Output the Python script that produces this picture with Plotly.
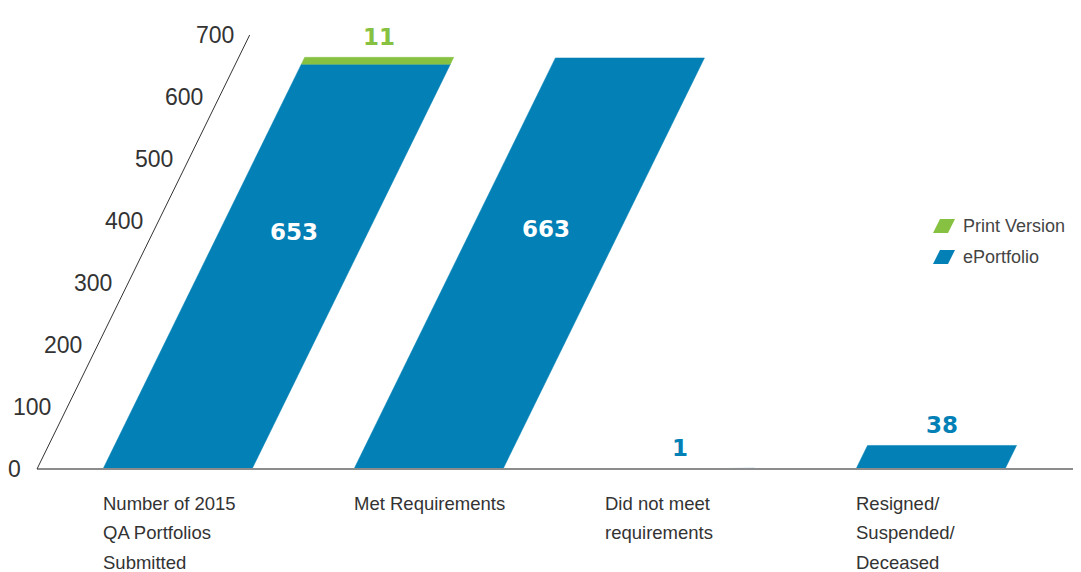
import plotly.graph_objects as go

# data
categories = [
    ["Number of 2015", "QA Portfolios", "Submitted"],
    ["Met Requirements"],
    ["Did not meet", "requirements"],
    ["Resigned/", "Suspended/", "Deceased"],
]
eportfolio = [653, 663, 1, 38]
print_version = [11, 0, 0, 0]
y_ticks = [0, 100, 200, 300, 400, 500, 600, 700]
series_names = ["Print Version", "ePortfolio"]

BLUE = "#0380b5"
GREEN = "#86c142"
TEXT = "#333333"

VIEW_W, VIEW_H = 1081, 572
OFF = 8                  # page body margin around the plot div
W, H = VIEW_W - OFF, VIEW_H - OFF
BASE_PX = 469            # pixel row of the zero line (window coords)
PX_PER_UNIT = 0.62       # vertical pixels per data unit
SLANT = 0.49             # horizontal shift per vertical pixel
SHEAR = SLANT * PX_PER_UNIT
AXIS_X0 = 37
BAR_X0, BAR_STEP, BAR_W = 103, 251, 149


def slanted(x_left, y0, y1):
    xs = [x_left + SHEAR * y0, x_left + BAR_W + SHEAR * y0,
          x_left + BAR_W + SHEAR * y1, x_left + SHEAR * y1, x_left + SHEAR * y0]
    return xs, [y0, y0, y1, y1, y0]


def paper(px, py):
    return (px - OFF) / W, 1 - (py - OFF) / H


fig = go.Figure()
annotations = []
value_font = dict(family="DejaVu Sans", size=23, weight="bold")

for i, (blue, green) in enumerate(zip(eportfolio, print_version)):
    left = BAR_X0 + i * BAR_STEP
    xs, ys = slanted(left, 0, blue)
    fig.add_trace(go.Scatter(
        x=xs, y=ys, mode="lines", fill="toself", fillcolor=BLUE,
        line=dict(color=BLUE, width=0.5), name=series_names[1],
        hoverinfo="text", text=f"ePortfolio: {blue}",
    ))
    if green:
        top = blue + green
        xs, ys = slanted(left, blue, top)
        fig.add_trace(go.Scatter(
            x=xs, y=ys, mode="lines", fill="toself", fillcolor=GREEN,
            line=dict(color=GREEN, width=0.5), name=series_names[0],
            hoverinfo="text", text=f"Print Version: {green}",
        ))
        annotations.append(dict(
            x=left + BAR_W / 2 + SHEAR * top, y=top, text=str(green),
            yshift=20, showarrow=False, font=dict(value_font, color=GREEN),
        ))
    if blue > 100:
        ly = blue * 0.585
        annotations.append(dict(
            x=left + BAR_W / 2 + SHEAR * ly, y=ly, text=str(blue), showarrow=False,
            font=dict(value_font, color="white"),
        ))
    else:
        annotations.append(dict(
            x=left + BAR_W / 2 + SHEAR * blue, y=blue, text=str(blue),
            yshift=20, showarrow=False, font=dict(value_font, color=BLUE),
        ))
    for j, line in enumerate(categories[i]):
        annotations.append(dict(
            x=left, y=0, text=line, xanchor="left", yanchor="middle",
            xshift=-2, yshift=-(34 + 29.5 * j), showarrow=False,
            font=dict(family="Liberation Sans", size=18.5, color=TEXT),
        ))

# slanted value axis labels
for t in y_ticks:
    annotations.append(dict(
        x=AXIS_X0 + SHEAR * t, y=t, text=str(t), xanchor="right", yanchor="middle",
        xshift=-14, showarrow=False,
        font=dict(family="Liberation Sans", size=23, color=TEXT),
    ))

shapes = [
    dict(type="line", x0=AXIS_X0, x1=VIEW_W, y0=0, y1=0,
         line=dict(color="#8c8c8c", width=2), layer="above"),
    dict(type="line", x0=AXIS_X0, y0=0, x1=AXIS_X0 + SHEAR * y_ticks[-1], y1=y_ticks[-1],
         line=dict(color="#333333", width=1)),
]

# hand-made legend with slanted swatches
for name, color, cy in [(series_names[0], GREEN, 226), (series_names[1], BLUE, 257)]:
    pts = [(933, cy + 7), (948, cy + 7), (955, cy - 7), (940, cy - 7)]
    path = "M " + " L ".join("{},{}".format(*paper(px, py)) for px, py in pts) + " Z"
    shapes.append(dict(type="path", xref="paper", yref="paper", path=path,
                       fillcolor=color, line=dict(width=0)))
    tx, ty = paper(963, cy)
    annotations.append(dict(
        x=tx, y=ty, xref="paper", yref="paper", text=name,
        xanchor="left", yanchor="middle", xshift=-2, showarrow=False,
        font=dict(family="Liberation Sans", size=18, color="#444444"),
    ))

fig.update_layout(
    width=W, height=H,
    margin=dict(l=0, r=0, t=0, b=0),
    paper_bgcolor="white", plot_bgcolor="white",
    showlegend=False,
    xaxis=dict(range=[OFF, VIEW_W], visible=False, fixedrange=True),
    yaxis=dict(range=[-(VIEW_H - BASE_PX) / PX_PER_UNIT, (BASE_PX - OFF) / PX_PER_UNIT],
               visible=False, fixedrange=True),
    shapes=shapes,
    annotations=annotations,
)

fig.write_html("out.html")
